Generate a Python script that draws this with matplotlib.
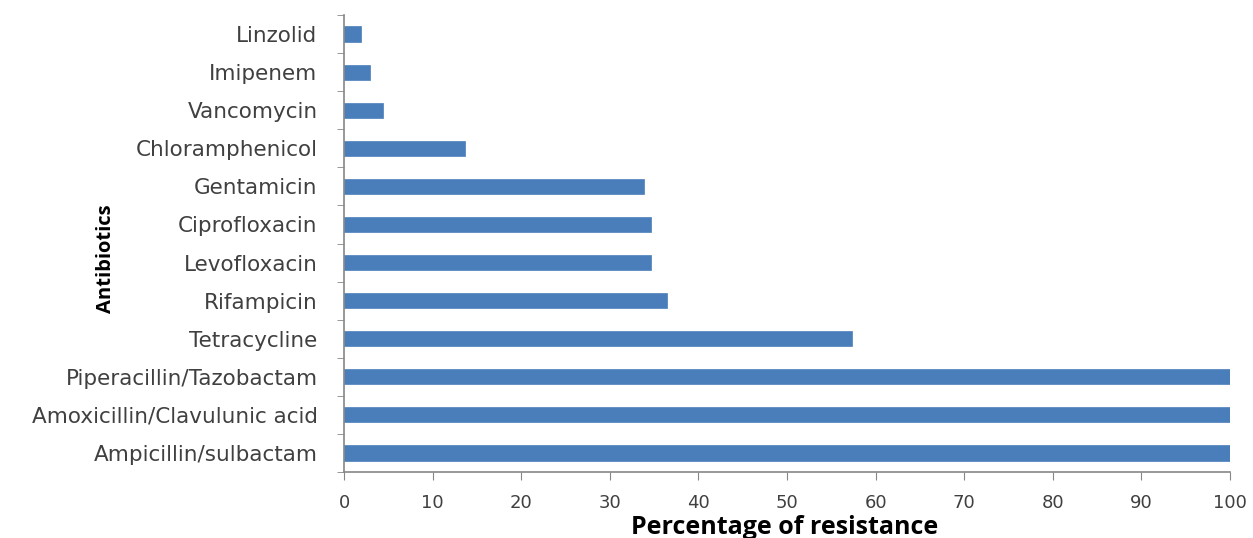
import matplotlib
matplotlib.use("Agg")
import matplotlib.pyplot as plt
import numpy as np

antibiotics = ["Ampicillin/sulbactam", "Amoxicillin/Clavulunic acid", "Piperacillin/Tazobactam",
               "Tetracycline", "Rifampicin", "Levofloxacin", "Ciprofloxacin", "Gentamicin",
               "Chloramphenicol", "Vancomycin", "Imipenem", "Linzolid"]
resistance = [100, 100, 100, 57.3, 36.4, 34.6, 34.6, 33.9, 13.7, 4.4, 2.9, 1.9]
xticks = [0, 10, 20, 30, 40, 50, 60, 70, 80, 90, 100]

fig = plt.figure(figsize=(12.53, 5.38), dpi=100)
ax = fig.add_axes([344/1253, 1 - 472/538, (1230 - 344)/1253, (472 - 15)/538])

y = np.arange(len(antibiotics))
ax.barh(y, resistance, height=0.4, color="#4A7EBB", edgecolor="#4A7EBB", linewidth=0.5)

ax.set_xlim(0, 100)
ax.set_ylim(-0.5, len(antibiotics) - 0.5)

for s in ["top", "right"]:
    ax.spines[s].set_visible(False)
for s in ["left", "bottom"]:
    ax.spines[s].set_color("#868686")
    ax.spines[s].set_linewidth(1.2)

ax.set_xticks(xticks)
ax.set_xticklabels([str(v) for v in xticks], fontsize=13, color="#404040", family="DejaVu Sans")
ax.tick_params(axis="x", length=6, color="#868686", pad=10)

ax.set_yticks(y)
ax.set_yticklabels(antibiotics, fontsize=15.5, color="#404040", family="DejaVu Sans")
ax.tick_params(axis="y", which="major", length=0, pad=19)
ax.set_yticks(np.arange(-0.5, len(antibiotics), 1), minor=True)
ax.tick_params(axis="y", which="minor", length=5, color="#868686", direction="out")

ax.set_xlabel("Percentage of resistance", fontsize=18, fontweight="bold", family="Open Sans", color="#000000")
ax.xaxis.set_label_coords((785 - 344)/(1230 - 344), -(527 - 472)/(472 - 15), transform=ax.transAxes)
ax.xaxis.label.set_verticalalignment("center")

ax.set_ylabel("Antibiotics", fontsize=14.5, fontweight="bold", family="Open Sans", color="#000000")
ax.yaxis.set_label_coords(-(344 - 106)/(1230 - 344), 1 - (259 - 15)/(472 - 15), transform=ax.transAxes)
ax.yaxis.label.set_verticalalignment("center")

fig.savefig("out.png", dpi=100, facecolor="white")
